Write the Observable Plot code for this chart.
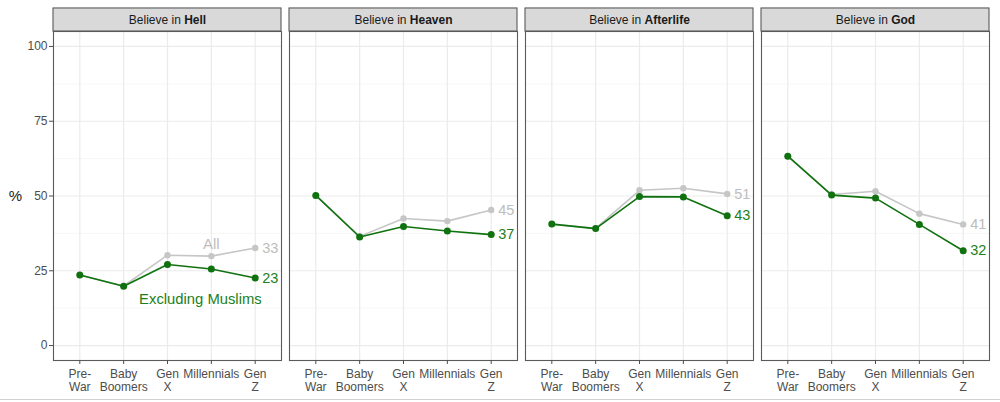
<!DOCTYPE html>
<html>
<head>
<meta charset="utf-8">
<script src="https://cdn.jsdelivr.net/npm/d3@7"></script>
<script src="https://cdn.jsdelivr.net/npm/@observablehq/plot@0.6"></script>
<style>
  body { margin: 0; background: #fff; }
  #chart { width: 1000px; height: 399px; border-bottom: 1px solid #d0d0d0; overflow: hidden; }
</style>
</head>
<body>
<div id="chart"></div>
<script>
// ---- data ----
const generations = ["Pre-War", "Baby Boomers", "Gen X", "Millennials", "Gen Z"];
const tickLabels = ["Pre-\nWar", "Baby\nBoomers", "Gen\nX", "Millennials", "Gen\nZ"];
const beliefs = ["Hell", "Heaven", "Afterlife", "God"];

const allHell        = [23.6, 19.9, 30.2, 29.9, 32.6];
const exclHell       = [23.6, 19.8, 27.1, 25.6, 22.6];
const allHeaven      = [50.2, 36.5, 42.5, 41.6, 45.3];
const exclHeaven     = [50.2, 36.3, 39.8, 38.3, 37.1];
const allAfterlife   = [40.6, 39.2, 51.9, 52.6, 50.7];
const exclAfterlife  = [40.6, 39.1, 49.8, 49.7, 43.4];
const allGod         = [63.3, 50.5, 51.6, 44.1, 40.5];
const exclGod        = [63.3, 50.3, 49.3, 40.5, 31.7];

const endLabelsAll  = [33, 45, 51, 41];
const endLabelsExcl = [23, 37, 43, 32];

const yTicks = [0, 25, 50, 75, 100];
const yMinor = [12.5, 37.5, 62.5, 87.5];

// ---- build tables ----
const allSeries  = {Hell: allHell, Heaven: allHeaven, Afterlife: allAfterlife, God: allGod};
const exclSeries = {Hell: exclHell, Heaven: exclHeaven, Afterlife: exclAfterlife, God: exclGod};
const rowsFor = (series) => beliefs.flatMap(b => series[b].map((v, i) => ({belief: b, gen: generations[i], i: i + 1, value: v})));
const allRows = rowsFor(allSeries);
const exclRows = rowsFor(exclSeries);
const endAll = beliefs.map((b, k) => ({belief: b, i: 5, value: allSeries[b][4], label: String(endLabelsAll[k])}));
const endExcl = beliefs.map((b, k) => ({belief: b, i: 5, value: exclSeries[b][4], label: String(endLabelsExcl[k])}));
const strips = beliefs.map(b => ({belief: b, text: "Believe in|" + b}));

const GREEN = "#0f720f";
const GREEN_TXT = "#1b7f1b";
const GRAY = "#c6c6c6";
const GRAY_TXT = "#bdbdbd";
const BORDER = "#5a5a5a";
const TICK = "#4d4d4d";

const chart = Plot.plot({
  width: 1000,
  height: 398,
  marginTop: 31,
  marginBottom: 38,
  marginLeft: 52.5,
  marginRight: 11.3,
  style: {fontFamily: "'Liberation Sans', Arial, sans-serif", background: "#fff"},
  fx: {domain: beliefs, paddingInner: 0.034, paddingOuter: 0, axis: null},
  x: {domain: [0.4, 5.6]},
  y: {domain: [-5, 105]},
  marks: [
    Plot.gridY({ticks: yMinor, stroke: "#f2f2f2", strokeOpacity: 1, strokeWidth: 0.7}),
    Plot.gridY({ticks: yTicks, stroke: "#ebebeb", strokeOpacity: 1, strokeWidth: 1.2}),
    Plot.gridX({ticks: [1, 2, 3, 4, 5], stroke: "#ebebeb", strokeOpacity: 1, strokeWidth: 1.2}),
    Plot.line(allRows, {fx: "belief", x: "i", y: "value", stroke: GRAY, strokeWidth: 1.6}),
    Plot.dot(allRows, {fx: "belief", x: "i", y: "value", fill: GRAY, r: 3.2}),
    Plot.line(exclRows, {fx: "belief", x: "i", y: "value", stroke: GREEN, strokeWidth: 1.6}),
    Plot.dot(exclRows, {fx: "belief", x: "i", y: "value", fill: GREEN, r: 3.5}),
    Plot.text(endAll, {fx: "belief", x: "i", y: "value", text: "label", dx: 7, textAnchor: "start", fill: GRAY_TXT, fontSize: 14.5}),
    Plot.text(endExcl, {fx: "belief", x: "i", y: "value", text: "label", dx: 7, textAnchor: "start", fill: GREEN_TXT, fontSize: 14.5}),
    Plot.text([{belief: "Hell", text: "All", i: 4, value: 34}], {fx: "belief", x: "i", y: "value", text: "text", fill: GRAY_TXT, fontSize: 15}),
    Plot.text([{belief: "Hell", text: "Excluding Muslims", i: 3.75, value: 15.5}], {fx: "belief", x: "i", y: "value", text: "text", fill: GREEN_TXT, fontSize: 14.8}),
    Plot.frame({stroke: BORDER, strokeWidth: 1.1}),
    Plot.rect(strips, {fx: "belief", x1: 0.4, x2: 5.6, y1: 105, y2: 112.7, fill: "#d9d9d9", stroke: BORDER, strokeWidth: 1.1}),
    Plot.text(strips, {fx: "belief", x: 3, y: 108.85, text: "text", fill: "#1a1a1a", fontSize: 12}),
    Plot.axisY({ticks: yTicks, tickSize: 4, tickPadding: 2, label: null, color: TICK, fontSize: 12}),
    Plot.axisX({ticks: [1, 2, 3, 4, 5], tickFormat: (d) => tickLabels[d - 1], tickSize: 4, tickPadding: 4.5, label: null, color: TICK, fontSize: 12, lineHeight: 1.08}),
    Plot.text([{belief: "Hell", text: "%", i: 0.4, value: 50}], {fx: "belief", x: "i", y: "value", text: "text", dx: -38, fill: "#1a1a1a", fontSize: 15})
  ]
});

// Mixed-weight strip labels
const ns = "http://www.w3.org/2000/svg";
chart.querySelectorAll("text").forEach((t) => {
  if (t.children.length || !t.textContent.includes("|")) return;
  const [a, b] = t.textContent.split("|");
  t.textContent = "";
  const s1 = document.createElementNS(ns, "tspan");
  s1.textContent = a + "\u00a0";
  const s2 = document.createElementNS(ns, "tspan");
  s2.textContent = b;
  s2.setAttribute("font-weight", "bold");
  t.appendChild(s1);
  t.appendChild(s2);
});

document.getElementById("chart").appendChild(chart);
</script>
</body>
</html>
